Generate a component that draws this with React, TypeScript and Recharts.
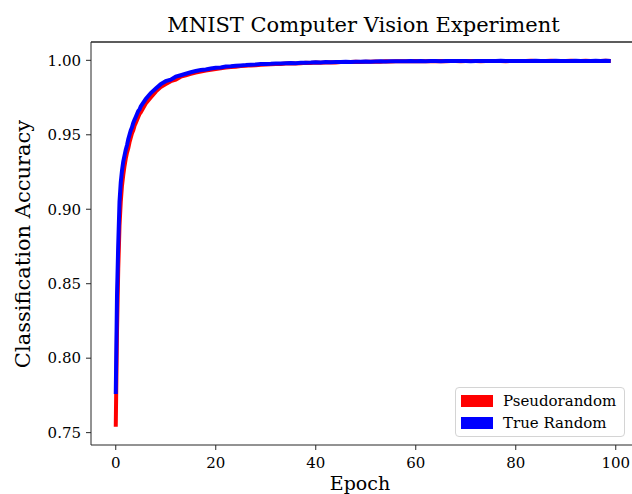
import { LineChart, Line, XAxis, YAxis, Label, ReferenceLine } from 'recharts'

// epochs sampled finely during the first few epochs, then once per epoch
const epochs = [
  0, 0.25, 0.5, 0.75, 1, 1.25, 1.5, 1.75, 2, 2.25, 2.5, 2.75, 3, 3.25, 3.5, 3.75, 4, 4.25, 4.5, 4.75,
  5, 6, 7, 8, 9, 10, 11, 12, 13, 14, 15, 16, 17, 18, 19, 20,
  21, 22, 23, 24, 25, 26, 27, 28, 29, 30, 31, 32, 33, 34, 35, 36, 37, 38, 39, 40,
  41, 42, 43, 44, 45, 46, 47, 48, 49, 50, 51, 52, 53, 54, 55, 56, 57, 58, 59, 60,
  61, 62, 63, 64, 65, 66, 67, 68, 69, 70, 71, 72, 73, 74, 75, 76, 77, 78, 79, 80,
  81, 82, 83, 84, 85, 86, 87, 88, 89, 90, 91, 92, 93, 94, 95, 96, 97, 98, 99,
]

const pseudorandom = [
  0.754, 0.818, 0.86, 0.889, 0.905, 0.916, 0.923, 0.929, 0.934, 0.938, 0.941, 0.945, 0.948, 0.951, 0.953, 0.956, 0.958, 0.96, 0.962, 0.964,
  0.965, 0.971, 0.975, 0.979, 0.982, 0.984, 0.986, 0.987, 0.989, 0.99, 0.991, 0.9918, 0.9925, 0.9932, 0.9937, 0.9942,
  0.9946, 0.9951, 0.9955, 0.9957, 0.9961, 0.9963, 0.9966, 0.9967, 0.997, 0.9972, 0.9973, 0.9976, 0.9975, 0.9978, 0.998, 0.9979, 0.9981, 0.9983, 0.9982, 0.9985,
  0.9984, 0.9986, 0.9987, 0.9986, 0.9988, 0.9989, 0.9988, 0.999, 0.9989, 0.9991, 0.999, 0.9992, 0.9991, 0.9993, 0.9992, 0.9993, 0.9994, 0.9993, 0.9994, 0.9995,
  0.9994, 0.9993, 0.9995, 0.9994, 0.9995, 0.9994, 0.9996, 0.9995, 0.9994, 0.9995, 0.9996, 0.9995, 0.9994, 0.9996, 0.9995, 0.9996, 0.9995, 0.9994, 0.9996, 0.9995,
  0.9996, 0.9995, 0.9997, 0.9996, 0.9995, 0.9996, 0.9997, 0.9996, 0.9995, 0.9996, 0.9997, 0.9996, 0.9995, 0.9997, 0.9996, 0.9995, 0.9996, 0.9997, 0.9996,
]

const trueRandom = [
  0.776, 0.842, 0.877, 0.905, 0.918, 0.926, 0.932, 0.936, 0.94, 0.943, 0.947, 0.95, 0.953, 0.955, 0.958, 0.96, 0.962, 0.964, 0.966, 0.967,
  0.969, 0.974, 0.978, 0.981, 0.984, 0.986, 0.987, 0.989, 0.99, 0.991, 0.992, 0.9928, 0.9935, 0.9938, 0.9945, 0.995,
  0.9952, 0.9958, 0.996, 0.9964, 0.9966, 0.9968, 0.9971, 0.9972, 0.9975, 0.9976, 0.9977, 0.9979, 0.9978, 0.9981, 0.9982, 0.9981, 0.9983, 0.9984, 0.9985, 0.9987,
  0.9986, 0.9988, 0.9987, 0.9989, 0.9988, 0.999, 0.9989, 0.9991, 0.999, 0.9992, 0.9991, 0.9992, 0.9993, 0.9992, 0.9993, 0.9994, 0.9993, 0.9994, 0.9995, 0.9994,
  0.9995, 0.9994, 0.9995, 0.9996, 0.9994, 0.9995, 0.9996, 0.9995, 0.9996, 0.9995, 0.9994, 0.9995, 0.9996, 0.9995, 0.9996, 0.9995, 0.9997, 0.9996, 0.9995, 0.9996,
  0.9996, 0.9995, 0.9996, 0.9997, 0.9996, 0.9995, 0.9996, 0.9997, 0.9996, 0.9995, 0.9996, 0.9997, 0.9996, 0.9995, 0.9996, 0.9997, 0.9996, 0.9997, 0.9996,
]

const xTicks = [0, 20, 40, 60, 80, 100]
const yTicks = [0.75, 0.8, 0.85, 0.9, 0.95, 1.0]

const seriesInfo = [
  { key: 'pseudorandom', name: 'Pseudorandom', color: '#ff0000' },
  { key: 'trueRandom', name: 'True Random', color: '#0000ff' },
]

const data = epochs.map((epoch, i) => ({
  epoch,
  pseudorandom: pseudorandom[i],
  trueRandom: trueRandom[i],
}))

const X_DOMAIN = [-4.95, 103.95]
const Y_DOMAIN = [0.7417, 1.0123]

const FONT = '"DejaVu Serif", serif'
const AXIS = '#262626'

function LegendBox() {
  return (
    <div
      style={{
        position: 'absolute',
        left: 455,
        top: 387,
        width: 170,
        height: 50,
        border: '1px solid #d4d4d4',
        borderRadius: 4,
        background: 'rgba(255,255,255,0.85)',
        fontFamily: FONT,
        fontSize: 15,
        color: '#000',
        boxSizing: 'border-box',
        padding: '2px 0 0 5px',
      }}
    >
      {seriesInfo.map((s) => (
        <div key={s.key} style={{ display: 'flex', alignItems: 'center', height: 22 }}>
          <span style={{ width: 32, height: 12, background: s.color, display: 'inline-block', marginRight: 10 }} />
          <span>{s.name}</span>
        </div>
      ))}
    </div>
  )
}

export default function App() {
  return (
    <div style={{ position: 'fixed', left: 0, top: 0, width: 632, height: 494, overflow: 'hidden', background: '#fff' }}>
      <LineChart width={640} height={494} data={data} margin={{ top: 42, right: 4.5, bottom: 0, left: 0 }}>
        <XAxis
          dataKey="epoch"
          type="number"
          domain={X_DOMAIN}
          ticks={xTicks}
          height={49}
          tickSize={5}
          tickMargin={7}
          axisLine={{ stroke: AXIS, strokeWidth: 1 }}
          tickLine={{ stroke: AXIS }}
          tick={{ fontFamily: FONT, fontSize: 15, fill: '#000' }}
        >
          <Label
            content={() => (
              <text x={360} y={490} textAnchor="middle" fontFamily={FONT} fontSize={19} fill="#000">
                Epoch
              </text>
            )}
          />
        </XAxis>
        <YAxis
          type="number"
          domain={Y_DOMAIN}
          ticks={yTicks}
          width={91}
          tickSize={5}
          tickMargin={5}
          tickFormatter={(v: number) => v.toFixed(2)}
          axisLine={{ stroke: AXIS, strokeWidth: 1 }}
          tickLine={{ stroke: AXIS }}
          tick={{ fontFamily: FONT, fontSize: 15, fill: '#000' }}
        >
          <Label
            content={() => (
              <text
                x={30}
                y={244}
                transform="rotate(-90 30 244)"
                textAnchor="middle"
                fontFamily={FONT}
                fontSize={21}
                fill="#000"
              >
                Classification Accuracy
              </text>
            )}
          />
        </YAxis>
        {/* top spine */}
        <ReferenceLine y={Y_DOMAIN[1]} stroke={AXIS} strokeWidth={1.5} ifOverflow="extendDomain" />
        {seriesInfo.map((s) => (
          <Line
            key={s.key}
            dataKey={s.key}
            name={s.name}
            stroke={s.color}
            strokeWidth={4}
            dot={false}
            type="linear"
            isAnimationActive={false}
          />
        ))}
      </LineChart>
      <div
        style={{
          position: 'absolute',
          left: 91,
          width: 545,
          top: 13,
          textAlign: 'center',
          fontFamily: FONT,
          fontSize: 21,
          color: '#000',
          lineHeight: '24px',
        }}
      >
        MNIST Computer Vision Experiment
      </div>
      <LegendBox />
    </div>
  )
}
